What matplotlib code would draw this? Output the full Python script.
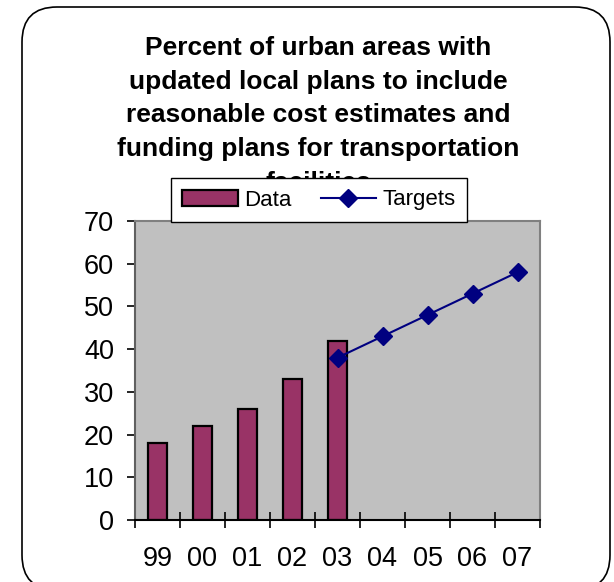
import numpy as np
import matplotlib.pyplot as plt
from matplotlib.patches import FancyBboxPatch

plt.rcParams['font.family'] = ['Liberation Sans', 'DejaVu Sans']

# data
years = ['99', '00', '01', '02', '03', '04', '05', '06', '07']
data_years = ['99', '00', '01', '02', '03']
data_vals = [18, 22, 26, 33, 42]
target_years = ['03', '04', '05', '06', '07']
target_vals = [38, 43, 48, 53, 58]
title_lines = ['Percent of urban areas with',
               'updated local plans to include',
               'reasonable cost estimates and',
               'funding plans for transportation',
               'facilities']

W, H = 614, 582
fig = plt.figure(figsize=(W/100, H/100), dpi=100)

# rounded outer border (inches)
box = FancyBboxPatch((0.22, -0.08), 5.88, 5.83,
                     boxstyle='round,pad=0,rounding_size=0.35',
                     transform=fig.dpi_scale_trans, fill=False,
                     edgecolor='black', lw=1.2)
fig.patches.append(box)

# title, one line at a time
for i, line in enumerate(title_lines):
    fig.text(318/W, 1 - (55 + i*33.7)/H, line, ha='center', va='baseline',
             fontsize=19, fontweight='bold', zorder=3)

ax = fig.add_axes([135/W, 62/H, 405/W, 299/H])
ax.set_facecolor('#C0C0C0')
pos = {y: i for i, y in enumerate(years)}

bars = ax.bar([pos[y] for y in data_years], data_vals, width=0.44,
              color='#993366', edgecolor='black', linewidth=1.6,
              label='Data', zorder=2)
ln, = ax.plot([pos[y] for y in target_years], target_vals, color='#000080',
              lw=1.5, marker='D', ms=9, label='Targets', zorder=3,
              clip_on=False)

ax.set_xlim(-0.5, len(years) - 0.5)
ax.set_ylim(0, 70)
ax.set_yticks(range(0, 71, 10))
ax.set_xticks(np.arange(len(years) + 1) - 0.5)
ax.set_xticklabels([])
ax.set_xticks(range(len(years)), years, minor=True)
ax.tick_params(axis='x', which='major', direction='inout', length=11.5,
               width=1.2, color='black')
ax.tick_params(axis='x', which='minor', length=0, pad=19, labelsize=19.5)
ax.tick_params(axis='y', direction='out', length=6, width=1.2, pad=9,
               labelsize=19.5)

for s in ['top', 'right']:
    ax.spines[s].set_color('#808080')
    ax.spines[s].set_linewidth(1.5)
ax.spines['left'].set_color('#606060')
ax.spines['left'].set_linewidth(1.5)
ax.spines['bottom'].set_color('black')
ax.spines['bottom'].set_linewidth(1.5)

leg = fig.legend(handles=[bars, ln], labels=['Data', 'Targets'], ncol=2,
                 loc='center', bbox_to_anchor=(319/W, 1 - 200/H),
                 fontsize=16, frameon=True, fancybox=False,
                 edgecolor='black', framealpha=1, handlelength=2.5,
                 handletextpad=0.3, columnspacing=1.3, borderpad=0.5)
leg.get_frame().set_linewidth(1.0)
leg.set_zorder(5)

fig.savefig('out.png', dpi=100)
